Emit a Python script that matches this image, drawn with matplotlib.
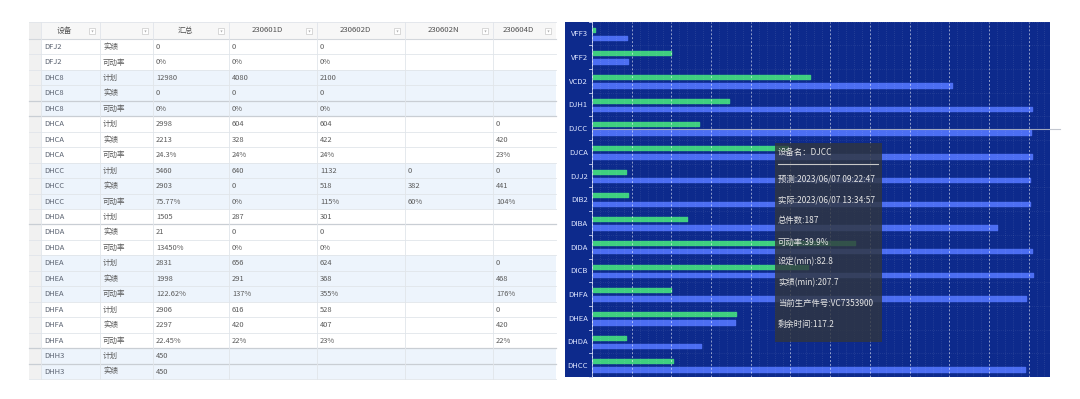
import matplotlib
matplotlib.use("Agg")
import matplotlib.pyplot as plt
from matplotlib.patches import Rectangle
from matplotlib.ticker import MultipleLocator, FixedLocator
import numpy as np

plt.rcParams['font.family'] = ['Noto Sans CJK SC', 'DejaVu Sans']

# ---------------- table data ----------------
table_headers = ["设备", "", "汇总", "230601D", "230602D", "230602N", "230604D"]
devices = ["DFJ2", "DFJ2", "DHC8", "DHC8", "DHC8", "DHCA", "DHCA", "DHCA",
           "DHCC", "DHCC", "DHCC", "DHDA", "DHDA", "DHDA", "DHEA", "DHEA",
           "DHEA", "DHFA", "DHFA", "DHFA", "DHH3", "DHH3"]
kinds = ["实绩", "可动率", "计划", "实绩", "可动率", "计划", "实绩", "可动率",
         "计划", "实绩", "可动率", "计划", "实绩", "可动率", "计划", "实绩",
         "可动率", "计划", "实绩", "可动率", "计划", "实绩"]
col_total = ["0", "0%", "12980", "0", "0%", "2998", "2213", "24.3%",
             "5460", "2903", "75.77%", "1505", "21", "13450%", "2831", "1998",
             "122.62%", "2906", "2297", "22.45%", "450", "450"]
col_230601D = ["0", "0%", "4080", "0", "0%", "604", "328", "24%",
               "640", "0", "0%", "287", "0", "0%", "656", "291",
               "137%", "616", "420", "22%", "", ""]
col_230602D = ["0", "0%", "2100", "0", "0%", "604", "422", "24%",
               "1132", "518", "115%", "301", "0", "0%", "624", "368",
               "355%", "528", "407", "23%", "", ""]
col_230602N = ["", "", "", "", "", "", "", "",
               "0", "382", "60%", "", "", "", "", "",
               "", "", "", "", "", ""]
col_230604D = ["", "", "", "", "", "0", "420", "23%",
               "0", "441", "104%", "", "", "", "0", "468",
               "176%", "0", "420", "22%", "", ""]

# ---------------- chart data ----------------
categories = ["VFF3", "VFF2", "VCD2", "DJH1", "DJCC", "DJCA", "DJJ2", "DIB2",
              "DIBA", "DIDA", "DICB", "DHFA", "DHEA", "DHDA", "DHCC"]
green_vals = [8, 198, 550, 345, 270, 495, 85, 90, 240, 663, 545, 200, 363, 85, 203]
blue_vals = [88, 90, 908, 1108, 1105, 1108, 1103, 1103, 1020, 1108, 1110, 1093, 360, 275, 1090]

tooltip_title = "设备名：DJCC"
tooltip_lines = ["预测:2023/06/07 09:22:47", "实际:2023/06/07 13:34:57", "总件数:187",
                 "可动率:39.9%", "设定(min):82.8", "实绩(min):207.7",
                 "当前生产件号:VC7353900", "剩余时间:117.2"]

W, H = 1080, 399
fig = plt.figure(figsize=(W / 100, H / 100), dpi=100)
fig.patch.set_facecolor("white")

bg = fig.add_axes([0, 0, 1, 1], zorder=0)
bg.set_xlim(0, W)
bg.set_ylim(H, 0)
bg.axis("off")

# ---------------- table ----------------
col_edges = [29, 41, 100, 153, 229, 317, 405, 493, 556]
head_top, head_bot, body_bot = 22, 39, 379
n_rows = len(devices)
row_h = (body_bot - head_bot) / n_rows
line_c = "#e1e5ea"

bg.add_patch(Rectangle((col_edges[0], head_top), col_edges[-1] - col_edges[0],
                       head_bot - head_top, facecolor="#f7f7f7", edgecolor="none"))
columns = [devices, kinds, col_total, col_230601D, col_230602D, col_230602N, col_230604D]
for j, h in enumerate(table_headers):
    l, r = col_edges[j + 1], col_edges[j + 2]
    cx = (l + r - 12) / 2
    bg.text(cx, (head_top + head_bot) / 2, h, fontsize=5.6, color="#505050",
            ha="center", va="center")
    ix = r - 8
    if ix + 6 < col_edges[-1]:
        bg.add_patch(Rectangle((ix - 3, 28), 6, 6, facecolor="white",
                               edgecolor="#c9c9c9", lw=0.5))
        bg.plot([ix], [31], marker="v", ms=1.6, color="#b0b0b0", mec="none")

groups = []
for d in devices:
    if d not in groups:
        groups.append(d)
for i in range(n_rows):
    y0 = head_bot + i * row_h
    gi = groups.index(devices[i])
    fc = "#edf4fc" if gi % 2 == 1 else "white"
    bg.add_patch(Rectangle((col_edges[1], y0), col_edges[-1] - col_edges[1], row_h,
                           facecolor=fc, edgecolor="none"))
    bg.add_patch(Rectangle((col_edges[0], y0), col_edges[1] - col_edges[0], row_h,
                           facecolor="#f1f1f1", edgecolor="none"))
    for j, col in enumerate(columns):
        txt = col[i]
        if txt:
            bg.text(col_edges[j + 1] + 3, y0 + row_h / 2 + 0.3, txt, fontsize=5.4,
                    color="#5a6270" if j == 0 else "#5a5a5a", ha="left", va="center")

bg.add_patch(Rectangle((col_edges[0], head_top), col_edges[1] - col_edges[0],
                       head_bot - head_top, facecolor="#eeeeee", edgecolor="none"))
darker = {4, 5, 12, 20, 21}
for i in range(n_rows + 1):
    y = head_bot + i * row_h
    if i == 0:
        bg.plot([col_edges[0], col_edges[-1]], [y, y], color="#d3d7dc", lw=0.8)
    elif i in darker:
        bg.plot([col_edges[0], col_edges[-1]], [y, y], color="#c9ced4", lw=0.9)
    else:
        bg.plot([col_edges[0], col_edges[-1]], [y, y], color=line_c, lw=0.6)
bg.plot([col_edges[0], col_edges[-1]], [head_top, head_top], color=line_c, lw=0.6)
for x in col_edges[1:-1]:
    bg.plot([x, x], [head_top, body_bot], color=line_c, lw=0.6)

# ---------------- chart ----------------
panel_l, panel_r, panel_t, panel_b = 565, 1050, 21.5, 377
bg_color = "#0d2a8c"
bg.add_patch(Rectangle((panel_l, panel_t), panel_r - panel_l, panel_b - panel_t,
                       facecolor=bg_color, edgecolor="none"))

ax_l = 592
ax = fig.add_axes([ax_l / W, (H - panel_b) / H, (panel_r - ax_l) / W,
                   (panel_b - panel_t) / H], zorder=1)
ax.set_facecolor(bg_color)
y = np.arange(len(categories))
ax.barh(y - 0.16, green_vals, height=0.17, color="#3fcf80", edgecolor="#3fcf80",
        linewidth=1.0, joinstyle="round", zorder=2)
ax.barh(y + 0.19, blue_vals, height=0.19, color="#4c6ef2", edgecolor="#4c6ef2",
        linewidth=1.0, joinstyle="round", zorder=2)
ax.set_xlim(0, 1154)
ax.set_ylim(len(categories) - 0.5, -0.5)
ax.set_axisbelow(False)

ax.xaxis.set_major_locator(MultipleLocator(100))
ax.xaxis.set_minor_locator(MultipleLocator(20))
ax.set_yticks(y)
ax.set_yticklabels(categories)
ax.yaxis.set_minor_locator(FixedLocator(np.arange(-0.5, len(categories), 0.5)))
ax.grid(True, axis="x", which="major", color="white", alpha=0.55,
        linestyle=(0, (2, 2)), lw=0.7)
ax.grid(True, axis="x", which="minor", color="white", alpha=0.18,
        linestyle=(0, (1, 2)), lw=0.5)
ax.grid(True, axis="y", which="minor", color="white", alpha=0.15,
        linestyle=(0, (1, 2)), lw=0.5)
ax.tick_params(axis="x", which="both", length=0, labelbottom=False)
ax.tick_params(axis="y", which="major", length=0, labelsize=5.5,
               labelcolor="#dfe6ff", pad=3)
ax.tick_params(axis="y", which="minor", length=0)
for b in np.arange(-0.5, len(categories), 1.0):
    ax.plot([-7, 0], [b, b], color="#c8d0f0", lw=0.6, clip_on=False, zorder=3)
for s in ["top", "right", "bottom"]:
    ax.spines[s].set_visible(False)
ax.spines["left"].set_color("#b8c2ea")
ax.spines["left"].set_linewidth(0.6)

# ---------------- tooltip overlay ----------------
top = fig.add_axes([0, 0, 1, 1], zorder=5)
top.set_xlim(0, W)
top.set_ylim(H, 0)
top.axis("off")
top.patch.set_alpha(0)
top.plot([ax_l, 1060], [129, 129], color="#b9bdc8", lw=0.8, alpha=0.85)
top.add_patch(Rectangle((775, 143), 107, 199, facecolor="#30363f",
                        edgecolor="none", alpha=0.82))
top.text(778, 153, tooltip_title, fontsize=6.0, color="#e6e6e6", ha="left", va="center")
top.plot([778, 878], [164, 164], color="#c8c8c8", lw=0.8)
line_ys = [179, 200, 221, 242, 262, 283, 303, 324]
for ty, t in zip(line_ys, tooltip_lines):
    top.text(778, ty, t, fontsize=6.0, color="#e6e6e6", ha="left", va="center")

fig.savefig("out.png", dpi=100)
